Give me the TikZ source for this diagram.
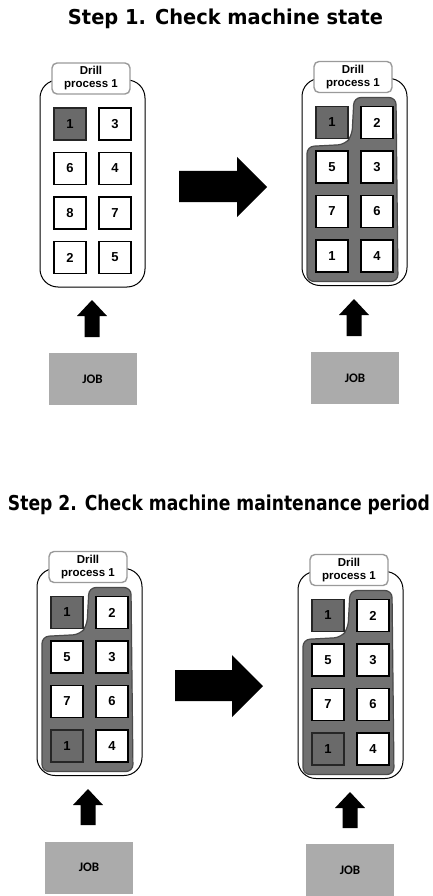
\documentclass[tikz,border=0pt]{standalone}
\usepackage{fontspec}
\setmainfont{Liberation Sans}
\newfontfamily\jobfont{Carlito}
\newfontfamily\titlefont{DejaVu Sans}
\definecolor{darkfill}{HTML}{6A6A6A}
\definecolor{blobfill}{HTML}{717171}
\definecolor{blobedge}{HTML}{4A4A4A}
\definecolor{jobgray}{HTML}{ABABAB}
\definecolor{labeledge}{HTML}{9A9A9A}
\newcommand\blobpath{\draw[blob] (22,-25) -- (64,-25) -- (66,159) -- (-25,159) -- (-25,24) -- (13,22) -- (20,13) -- cycle;}
\newcommand\drillpanel[4]{%
\begin{scope}[shift={#2}]
  \node[outerbox] (#1o) at (22.5,59.5) {};
  \node[labelbox] (#1l) at (21,-45.5) {Drill\\process 1};
  #3
  \foreach \c/\r/\n/\s [count=\i] in {#4}
    \node[\s] (#1s\i) at (\c*45,\r*44.5) {\n};
\end{scope}}
\newcommand\uparr[3]{\fill[blockarrow] (#1-7.5,#3) -- (#1-7.5,#2+16) -- (#1-15,#2+16) -- (#1,#2) -- (#1+15,#2+16) -- (#1+7.5,#2+16) -- (#1+7.5,#3) -- cycle;}
\begin{document}
\begin{tikzpicture}[x=1pt,y=-1pt,
  outerbox/.style={draw=black, line width=1pt, rounded corners=18pt, fill=white, minimum width=105pt, minimum height=207pt, inner sep=0pt},
  labelbox/.style={draw=labeledge, line width=1.4pt, rounded corners=5pt, fill=white, minimum width=78pt, minimum height=31pt, inner sep=0pt, align=center, font=\bfseries\fontsize{11.5}{13}\selectfont},
  sq/.style={draw=black, line width=1.3pt, fill=white, minimum size=32pt, inner sep=0pt, font=\bfseries\fontsize{13}{13}\selectfont},
  dk/.style={sq, fill=darkfill, draw=black!85},
  blob/.style={fill=blobfill, draw=blobedge, line width=1.2pt, rounded corners=7pt},
  blockarrow/.style={fill=black},
  jobbox/.style={fill=jobgray, minimum width=88pt, minimum height=52pt, inner sep=0pt, font=\jobfont\bfseries\fontsize{13}{13}\selectfont},
  titlestyle/.style={anchor=base, inner sep=0pt}
]
\useasboundingbox (0,0) rectangle (433,896);
% titles
\node[titlestyle] (t1) at (225.5,25) {\resizebox{315pt}{\height}{\titlefont\bfseries\fontsize{20.5}{24}\selectfont Step 1. Check machine state}};
\node[titlestyle] (t2) at (219,510) {\resizebox{422pt}{\height}{\titlefont\bfseries\fontsize{20.5}{24}\selectfont Step 2. Check machine maintenance period}};
% panels
\drillpanel{a}{(70,124)}{}{0/0/1/dk,1/0/3/sq,0/1/6/sq,1/1/4/sq,0/2/8/sq,1/2/7/sq,0/3/2/sq,1/3/5/sq}
\drillpanel{b}{(332,122.5)}{\blobpath}{0/0/1/dk,1/0/2/sq,0/1/5/sq,1/1/3/sq,0/2/7/sq,1/2/6/sq,0/3/1/sq,1/3/4/sq}
\drillpanel{c}{(67,612.5)}{\blobpath}{0/0/1/dk,1/0/2/sq,0/1/5/sq,1/1/3/sq,0/2/7/sq,1/2/6/sq,0/3/1/dk,1/3/4/sq}
\drillpanel{d}{(328,615.5)}{\blobpath}{0/0/1/dk,1/0/2/sq,0/1/5/sq,1/1/3/sq,0/2/7/sq,1/2/6/sq,0/3/1/dk,1/3/4/sq}
% big arrows
\fill[blockarrow] (179,171) -- (237,171) -- (237,157) -- (267,187) -- (237,217) -- (237,202) -- (179,202) -- cycle;
\fill[blockarrow] (175,670) -- (232,670) -- (232,655) -- (263,686) -- (232,717) -- (232,701) -- (175,701) -- cycle;
% small arrows
\uparr{92}{300}{337}
\uparr{354}{299}{336}
\uparr{88}{789}{825}
\uparr{350}{792}{828}
% job boxes
\node[jobbox] (j1) at (92.5,379) {JOB};
\node[jobbox] (j2) at (355,378) {JOB};
\node[jobbox] (j3) at (89,867.5) {JOB};
\node[jobbox] (j4) at (350,870) {JOB};
\end{tikzpicture}
\end{document}
